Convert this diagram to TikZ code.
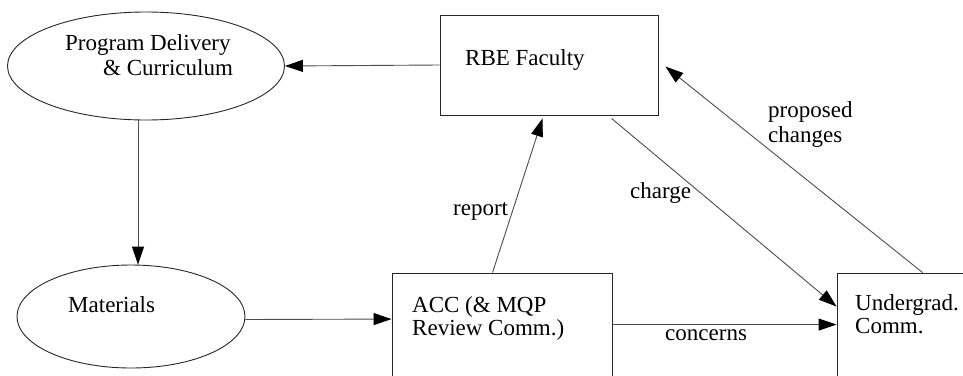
\documentclass[tikz,border=0pt]{standalone}
\usepackage{fontspec}
\setmainfont{Liberation Serif}
\newfontfamily\diagramfont{Liberation Serif}
\usetikzlibrary{arrows.meta,shapes.geometric,calc}
\begin{document}
\begin{tikzpicture}[x=1pt,y=-1pt,
  shapeline/.style={draw=black!85, line width=0.9pt, inner sep=0pt},
  flow/.style={draw=black!70, line width=0.9pt, -{Triangle[length=18pt,width=12pt,color=black]}},
  lbl/.style={anchor=base west, inner sep=0pt, font=\diagramfont\fontsize{23}{25}\selectfont}]
\useasboundingbox (0,0) rectangle (963,375);
\clip (0,0) rectangle (963,375);

% shapes
\node[ellipse, shapeline, minimum width=277pt, minimum height=108pt] (prog) at (146,66) {};
\node[ellipse, shapeline, minimum width=228pt, minimum height=103pt] (mat) at (131,316.5) {};
\node[rectangle, shapeline, minimum width=218pt, minimum height=100pt] (rbe) at (549,65) {};
\node[rectangle, shapeline, minimum width=220pt, minimum height=130pt] (acc) at (502,338) {};
\node[rectangle, shapeline, minimum width=160pt, minimum height=130pt] (ug) at (917,338) {};

% texts
\node[lbl] (t1) at (65,50) {Program Delivery};
\node[lbl] (t2) at (103,75) {\& Curriculum};
\node[lbl] (t3) at (465,65) {RBE Faculty};
\node[lbl] (t4) at (68,312) {Materials};
\node[lbl] (t5) at (412,312) {ACC (\& MQP};
\node[lbl] (t6) at (412,335) {Review Comm.)};
\node[lbl] (t7) at (855,310) {Undergrad.};
\node[lbl] (t8) at (855,333) {Comm.};

% connector labels
\node[lbl] (l1) at (453,215) {report};
\node[lbl] (l2) at (630,198) {charge};
\node[lbl] (l3) at (768,117) {proposed};
\node[lbl] (l4) at (768,142) {changes};
\node[lbl] (l5) at (665,340) {concerns};

% connectors
\draw[flow] (rbe.west) -- (prog.east);
\draw[flow] (prog.south -| 138,0) -- (mat.north -| 138,0);
\draw[flow] ($(mat.east)+(0,3)$) -- ($(acc.north west)+(0,46.5)$);
\draw[flow] ($(acc.north west)+(101,0)$) -- ($(rbe.south west)+(103,3)$);
\draw[flow] ($(rbe.south west)+(172,3)$) -- ($(ug.north west)+(0,34)$);
\draw[flow] ($(acc.north east)+(0,52)$) -- ($(ug.north west)+(0,52)$);
\draw[flow] ($(ug.north west)+(86,0)$) -- ($(rbe.north east)+(7,52)$);
\end{tikzpicture}
\end{document}
